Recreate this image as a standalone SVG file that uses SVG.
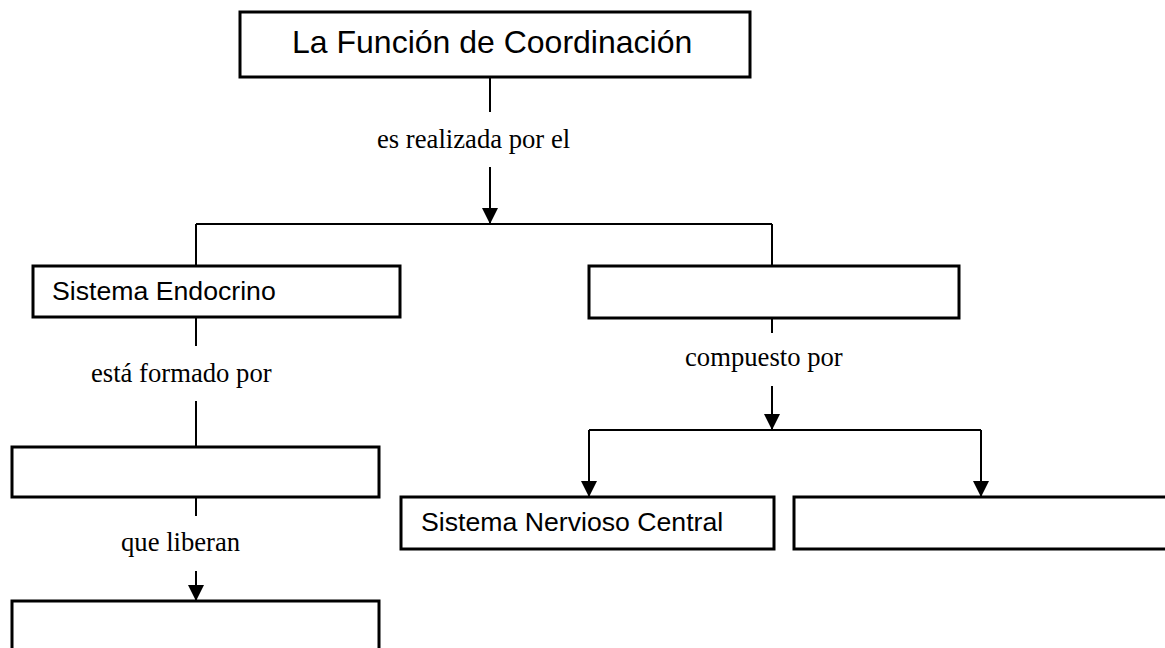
<svg xmlns="http://www.w3.org/2000/svg" width="1165" height="648" viewBox="0 0 1165 648">
<style>
.box{fill:#fff;stroke:#000;stroke-width:3}
.ln{fill:none;stroke:#000;stroke-width:2}
.arr{fill:none;stroke:#000;stroke-width:2;marker-end:url(#ah)}
.sans{font-family:"Liberation Sans",Arial,sans-serif;fill:#000}
.serif{font-family:"Liberation Serif","Times New Roman",serif;font-size:26.67px;fill:#000}
</style>
<defs>
<marker id="ah" markerUnits="userSpaceOnUse" markerWidth="16" markerHeight="16" viewBox="0 0 16 16" refX="16" refY="8" orient="auto">
<path d="M0,0 L16,8 L0,16 Z" fill="#000"/>
</marker>
</defs>
<rect width="1165" height="648" fill="#fff"/>
<g id="connectors">
<line class="ln" x1="490" y1="77" x2="490" y2="112"/>
<line class="arr" x1="490" y1="167" x2="490" y2="224"/>
<line class="ln" x1="196" y1="224" x2="772" y2="224"/>
<line class="ln" x1="196" y1="224" x2="196" y2="266"/>
<line class="ln" x1="772" y1="224" x2="772" y2="266"/>
<line class="ln" x1="196" y1="317" x2="196" y2="346"/>
<line class="ln" x1="196" y1="401" x2="196" y2="447"/>
<line class="ln" x1="196" y1="497" x2="196" y2="516"/>
<line class="arr" x1="196" y1="571" x2="196" y2="601"/>
<line class="ln" x1="772" y1="318" x2="772" y2="333"/>
<line class="arr" x1="772" y1="386" x2="772" y2="430"/>
<line class="ln" x1="589" y1="430" x2="981" y2="430"/>
<line class="arr" x1="589" y1="430" x2="589" y2="497"/>
<line class="arr" x1="981" y1="430" x2="981" y2="497"/>
<text class="serif" x="377" y="148">es realizada por el</text>
<text class="serif" x="91" y="382">está formado por</text>
<text class="serif" x="121" y="551">que liberan</text>
<text class="serif" x="685" y="366">compuesto por</text>
</g>
<g id="n-funcion">
<rect class="box" x="240" y="12" width="510" height="65"/>
<text class="sans" x="292" y="53" font-size="32">La Función de Coordinación</text>
</g>
<g id="n-endocrino">
<rect class="box" x="33" y="266" width="367" height="51"/>
<text class="sans" x="52" y="300" font-size="26.67">Sistema Endocrino</text>
</g>
<g id="n-nervioso">
<rect class="box" x="589" y="266" width="370" height="52"/>
</g>
<g id="n-glandulas">
<rect class="box" x="12" y="447" width="367" height="50"/>
</g>
<g id="n-hormonas">
<rect class="box" x="12" y="601" width="367" height="52"/>
</g>
<g id="n-snc">
<rect class="box" x="401" y="497" width="373" height="52"/>
<text class="sans" x="421" y="531" font-size="26.67">Sistema Nervioso Central</text>
</g>
<g id="n-snp">
<rect class="box" x="794" y="497" width="380" height="52"/>
</g>
</svg>
